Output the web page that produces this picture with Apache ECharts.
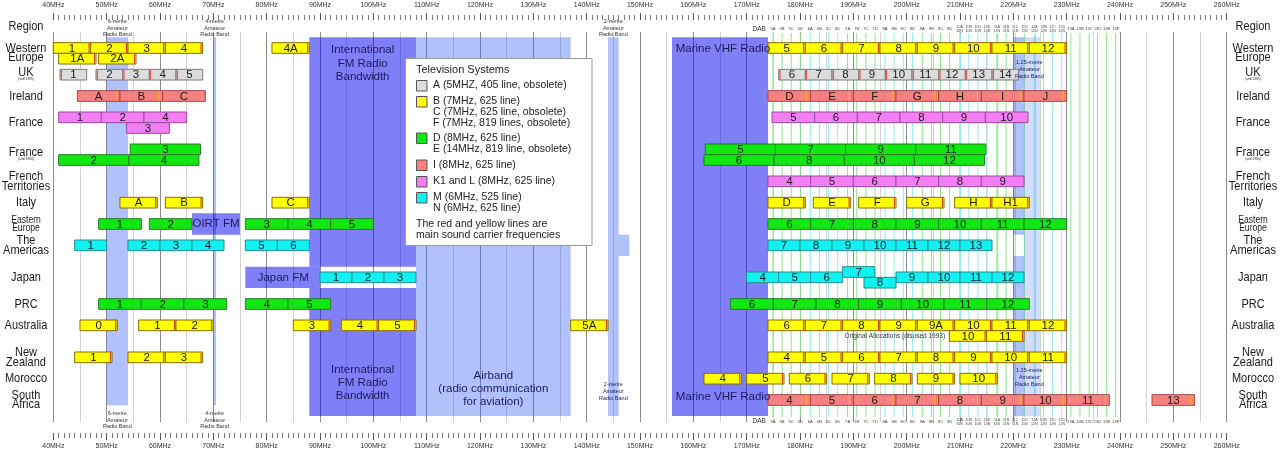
<!DOCTYPE html>
<html><head><meta charset="utf-8">
<script src="https://cdn.jsdelivr.net/npm/echarts@6/dist/echarts.min.js"></script>
<style>html,body{margin:0;padding:0;background:#fff}#c{width:1280px;height:454px}</style>
</head><body><div id="c"></div>
<script>
// ===== DATA (MHz) =====
const westernEurope = [["1",40,47],["2",47,54],["3",54,61],["4",61,68],["4A",81,88],["5",174,181],["6",181,188],["7",188,195],["8",195,202],["9",202,209],["10",209,216],["11",216,223],["12",223,230]];
const westernEuropeA = [["1A",41,48],["2A",48.5,55.5]];
const uk = [["1",41.25,46.25],["2",48,53],["3",53,58],["4",58,63],["5",63,68],["6",176,181],["7",181,186],["8",186,191],["9",191,196],["10",196,201],["11",201,206],["12",206,211],["13",211,216],["14",216,221]];
const ireland = [["A",44.5,52.5],["B",52.5,60.5],["C",60.5,68.5],["D",174,182],["E",182,190],["F",190,198],["G",198,206],["H",206,214],["I",214,222],["J",222,230]];
const france = [["1",41,49],["2",49,57],["4",57,65],["5",174.75,182.75],["6",182.75,190.75],["7",190.75,198.75],["8",198.75,206.75],["9",206.75,214.75],["10",214.75,222.75]];
const france3 = [["3",53.75,61.75]];
const france1984Odd = [["3",54.4,67.6],["5",162.25,175.4],["7",175.4,188.55],["9",188.55,201.7],["11",201.7,214.85]];
const france1984Even = [["2",41,54.15],["4",54.15,67.3],["6",162,175.15],["8",175.15,188.3],["10",188.3,201.45],["12",201.45,214.6]];
const frenchTerritories = [["4",174,182],["5",182,190],["6",190,198],["7",198,206],["8",206,214],["9",214,222]];
const italy = [["A",52.5,59.5],["B",61,68],["C",81,88],["D",174,181],["E",182.5,189.5],["F",191,198],["G",200,207],["H",209,216],["H1",216,223]];
const easternEurope = [["1",48.5,56.5],["2",58,66],["3",76,84],["4",84,92],["5",92,100],["6",174,182],["7",182,190],["8",190,198],["9",198,206],["10",206,214],["11",214,222],["12",222,230]];
const americas = [["1",44,50],["2",54,60],["3",60,66],["4",66,72],["5",76,82],["6",82,88],["7",174,180],["8",180,186],["9",186,192],["10",192,198],["11",198,204],["12",204,210],["13",210,216]];
const japan = [["1",90,96],["2",96,102],["3",102,108],["4",170,176],["5",176,182],["6",182,188],["9",198,204],["10",204,210],["11",210,216],["12",216,222]];
const japan7 = [["7",188,194]];
const japan8 = [["8",192,198]];
const prc = [["1",48.5,56.5],["2",56.5,64.5],["3",64.5,72.5],["4",76,84],["5",84,92],["6",167,175],["7",175,183],["8",183,191],["9",191,199],["10",199,207],["11",207,215],["12",215,223]];
const australia = [["0",45,52],["1",56,63],["2",63,70],["3",85,92],["4",94,101],["5",101,108],["5A",137,144],["6",174,181],["7",181,188],["8",188,195],["9",195,202],["9A",202,209],["10",209,216],["11",216,223],["12",223,230]];
const australiaOriginal = [["10",208,215],["11",215,222]];
const newZealand = [["1",44,51],["2",54,61],["3",61,68],["4",174,181],["5",181,188],["6",188,195],["7",195,202],["8",202,209],["9",209,216],["10",216,223],["11",223,230]];
const morocco = [["4",162,169],["5",170,177],["6",178,185],["7",186,193],["8",194,201],["9",202,209],["10",210,217]];
const southAfrica = [["4",174,182],["5",182,190],["6",190,198],["7",198,206],["8",206,214],["9",214,222],["10",222,230],["11",230,238],["13",246,254]];

const dabChannels = [["5A",174.928],["5B",176.640],["5C",178.352],["5D",180.064],["6A",181.936],["6B",183.648],["6C",185.360],["6D",187.072],["7A",188.928],["7B",190.640],["7C",192.352],["7D",194.064],["8A",195.936],["8B",197.648],["8C",199.360],["8D",201.072],["9A",202.928],["9B",204.640],["9C",206.352],["9D",208.064],["10A",209.936],["10N",210.096],["10B",211.648],["10C",213.360],["10D",215.072],["11A",216.928],["11N",217.088],["11B",218.640],["11C",220.352],["11D",222.064],["12A",223.936],["12N",224.096],["12B",225.648],["12C",227.360],["12D",229.072],["13A",230.784],["13B",232.496],["13C",234.208],["13D",235.776],["13E",237.488],["13F",239.200]];

// frequency bands: [name, start MHz, end MHz]
const bandRanges = [["6m",50,54],["4m",70,70.5],["FM",88,108],["FMlow",88,108],["JapanFM",76,90],["OIRT",66,75],["Air",108,137],["2m",144,146],["2mAm",146,148],["Marine",156,174],["125a",220,222],["125b",220,222],["125c",222,225]];

const regionNames = ["Region","Western\nEurope","UK","(until 1985)","Ireland","France","France","(until 1984)","French\nTerritories","Italy","Eastern\nEurope","The\nAmericas","Japan","PRC","Australia","New\nZealand","Morocco","South\nAfrica"];

const legendItems = [
  ["A",["A (5MHZ, 405 line, obsolete)"]],
  ["B",["B (7MHz, 625 line)","C (7MHz, 625 line, obsolete)","F (7MHz, 819 lines, obsolete)"]],
  ["D",["D (8MHz, 625 line)","E (14MHz, 819 line, obsolete)"]],
  ["I",["I (8MHz, 625 line)"]],
  ["L",["K1 and L (8MHz, 625 line)"]],
  ["M",["M (6MHz, 525 line)","N (6MHz, 625 line)"]]
];
const legendTitle = 'Television Systems';
const legendNote = ['The red and yellow lines are','main sound carrier frequencies'];

// ===== LAYOUT (row lanes; 1 lane = one bar height) =====
const rowLayout = [
  [westernEurope,1,'B'],[westernEuropeA,2,'B'],[uk,3.5,'A'],[ireland,5.5,'I'],
  [france,7.5,'L'],[france3,8.5,'L'],[france1984Odd,10.5,'E'],[france1984Even,11.5,'E'],
  [frenchTerritories,13.5,'L'],[italy,15.5,'B'],[easternEurope,17.5,'D'],[americas,19.5,'M'],
  [japan,22.5,'M'],[japan7,22,'M'],[japan8,23,'M'],[prc,25,'D'],[australia,27,'B'],
  [australiaOriginal,28,'B'],[newZealand,30,'B'],[morocco,32,'B'],[southAfrica,34,'I']
];
const regionLanes = [-1,1.47,3.3,3.95,5.5,8,10.8,11.4,13.5,15.5,17.5,19.5,22.5,25,27,30,32,34];
const regionStyle = ['n','n','n','s','n','n','n','s','n','n','e','n','n','n','n','n','n','n'];
const bandLayout = { "6m":[0,34.5,'L'], "4m":[0,34.5,'L'], "FM":[0,21.5,'D'], "FMlow":[23.5,35.5,'D'], "JapanFM":[21.5,23.5,'D'],
  "OIRT":[16.5,18.5,'D'], "Air":[0,35.5,'L'], "2m":[0,35.5,'L'], "2mAm":[18.5,20.5,'L'], "Marine":[0,35.5,'D'],
  "125a":[0,18.5,'L'], "125b":[20.5,35.5,'L'], "125c":[0,35.5,'M'] };
// annotations: [text, MHz, lane, style]
const annotations = [
  ["6-metre\nAmateur\nRadio Band",52,-0.875,'tiny'],["6-metre\nAmateur\nRadio Band",52,35.875,'tiny'],
  ["4-metre\nAmateur\nRadio Band",70.25,-0.875,'tiny'],["4-metre\nAmateur\nRadio Band",70.25,35.875,'tiny'],
  ["2-metre\nAmateur\nRadio Band",145,-0.875,'tiny'],["2-metre\nAmateur\nRadio Band",145,33.2,'tinyB'],
  ["1.25-metre\nAmateur\nRadio Band",223,3.0,'tinyB'],["1.25-metre\nAmateur\nRadio Band",223,31.9,'tinyB'],
  ["International\nFM Radio\nBandwidth",98,2.44,'band'],["International\nFM Radio\nBandwidth",98,32.4,'band'],
  ["Airband\n(radio communication\nfor aviation)",122.5,32.94,'band'],
  ["Marine VHF Radio",156.7,1.1,'bandL'],["Marine VHF Radio",156.7,33.7,'bandL'],
  ["OIRT FM",70.5,17.5,'band'],["Japan FM",83.1,22.5,'band'],
  ["Original Allocations (disused 1993)",207.2,28,'note'],
  ["DAB",173.6,-0.8,'dab'],["DAB",173.6,36.03,'dab']
];

// ===== STYLES =====
const FONT = 'Liberation Sans, Arial, sans-serif';
const sysStyle = {
  A:{fill:'#dcdcdc',stroke:'#7a7a7a',sound:'#e03a3a',pos:(s,e)=>s+0.25},
  B:{fill:'#ffff00',stroke:'#8a6a00',sound:'#d03000',pos:(s,e)=>e-0.3},
  D:{fill:'#11e811',stroke:'#2a7a2a'},
  E:{fill:'#11e811',stroke:'#2a7a2a'},
  I:{fill:'#f88080',stroke:'#a04848',sound:'#ffb020',pos:(s,e)=>s+7.25},
  L:{fill:'#f47ff4',stroke:'#9a4a9a'},
  M:{fill:'#10f2f2',stroke:'#2a8a8a'}
};
const bandColor = { D:'rgba(0,0,240,0.5)', L:'rgba(60,100,240,0.4)', M:'rgba(60,100,240,0.22)' };

const chart = echarts.init(document.getElementById('c'), null, {renderer:'canvas'});

const barSeries = rowLayout.map(([rows, lane, sys]) => ({
  type:'custom', xAxisIndex:0, yAxisIndex:0, z:5, silent:true,
  data: rows.map(r => [r[1], r[2], lane]),
  encode:{x:[0,1], y:2},
  renderItem:(params, api) => {
    const s = api.value(0), e = api.value(1), ln = api.value(2);
    const a = api.coord([s, ln-0.5]), b = api.coord([e, ln+0.5]);
    const st = sysStyle[sys];
    const children = [{type:'rect', shape:{x:a[0], y:a[1], width:b[0]-a[0], height:b[1]-a[1]},
      style:{fill:st.fill, stroke:st.stroke, lineWidth:1}}];
    if (st.sound) {
      const x = api.coord([st.pos(s,e), ln])[0];
      children.push({type:'line', shape:{x1:x, y1:a[1]+0.5, x2:x, y2:b[1]-0.5}, style:{stroke:st.sound, lineWidth:1}});
    }
    children.push({type:'text', style:{text:rows[params.dataIndex][0], x:(a[0]+b[0])/2, y:(a[1]+b[1])/2+0.5,
      align:'center', verticalAlign:'middle', fill:'#1a1a1a', fontSize:11.5, fontFamily:FONT}});
    return {type:'group', children};
  }
}));

const bandSeries = {
  type:'custom', xAxisIndex:0, yAxisIndex:0, z:3, silent:true,
  data: bandRanges.map(b => [b[1], b[2]]),
  renderItem:(params, api) => {
    const lay = bandLayout[bandRanges[params.dataIndex][0]];
    const a = api.coord([api.value(0), lay[0]]), b = api.coord([api.value(1), lay[1]]);
    return {type:'rect', shape:{x:a[0], y:a[1], width:b[0]-a[0], height:b[1]-a[1]}, style:{fill:bandColor[lay[2]]}};
  }
};

const dabSeries = {
  type:'custom', xAxisIndex:0, yAxisIndex:0, z:2, silent:true,
  data: dabChannels.map(d => [d[1]]),
  renderItem:(params, api) => {
    const lbl = dabChannels[params.dataIndex][0];
    const block = parseInt(lbl, 10);
    const col = block % 2 ? '#8fe38f' : '#93e9ee';
    const f = api.value(0);
    const t = api.coord([f, -0.4]), btm = api.coord([f, 35.6]);
    const ch = [{type:'line', shape:{x1:t[0], y1:t[1], x2:t[0], y2:btm[1]}, style:{stroke:col, lineWidth:1}}];
    if (!lbl.endsWith('N')) {
      const hasN = dabChannels.some(d => d[0] === block + 'N');
      const txt = hasN ? lbl + '\n' + block + 'N' : lbl;
      [-0.8, 36.03].forEach(l => {
        const p = api.coord([f, l]);
        ch.push({type:'text', style:{text:txt, x:p[0], y:p[1], align:'center', verticalAlign:'middle',
          fontSize:hasN?3.6:4.2, lineHeight:4, fill:'#444', fontFamily:FONT}});
      });
    }
    return {type:'group', children:ch};
  }
};

const annStyle = {
  tiny:{fontSize:5.5, lineHeight:6.7, fill:'#333', align:'center'},
  tinyB:{fontSize:5.5, lineHeight:6.7, fill:'#1c1c5c', align:'center'},
  band:{fontSize:11.5, lineHeight:13.3, fill:'#1c1c5c', align:'center'},
  bandL:{fontSize:11.5, lineHeight:13, fill:'#1c1c5c', align:'left'},
  note:{fontSize:6.5, lineHeight:7, fill:'#333', align:'right'},
  dab:{fontSize:6.5, lineHeight:7, fill:'#333', align:'right'}
};
const annSeries = {
  type:'custom', xAxisIndex:0, yAxisIndex:0, z:7, silent:true,
  data: annotations.map(a => [a[1], a[2]]),
  renderItem:(params, api) => {
    const an = annotations[params.dataIndex];
    const p = api.coord([api.value(0), api.value(1)]);
    const st = annStyle[an[3]];
    return {type:'text', style:{text:an[0], x:p[0], y:p[1], align:st.align, verticalAlign:'middle',
      fontSize:st.fontSize, lineHeight:st.lineHeight, fill:st.fill, fontFamily:FONT}};
  }
};

const regionSeries = {
  type:'custom', xAxisIndex:0, yAxisIndex:0, z:7, silent:true,
  data: regionNames.map((n,i) => [40, regionLanes[i]]),
  renderItem:(params, api) => {
    const y = api.coord([40, api.value(1)])[1];
    const kind = regionStyle[params.dataIndex];
    const fs = kind==='s' ? 3.6 : (kind==='e' ? 10 : 12.8);
    const lh = kind==='s' ? 4 : (kind==='e' ? 7.8 : 9.6);
    const txt = regionNames[params.dataIndex];
    return {type:'group', children:[26, 1253].map(x => ({type:'text', x, y, scaleX:0.86,
      style:{text:txt, x:0, y:0, align:'center', verticalAlign:'middle', fontSize:fs, lineHeight:lh, fill:'#1a1a1a', fontFamily:FONT}}))};
  }
};

// legend graphic
const ZL = 100;
const legendEls = [{type:'rect', z:ZL, shape:{x:405.5, y:58.5, width:186.5, height:187}, style:{fill:'#fff', stroke:'#9a9a9a', lineWidth:1}},
  {type:'text', z:ZL+1, style:{text:legendTitle, x:416, y:70, verticalAlign:'middle', fontSize:11, fill:'#222', fontFamily:FONT}}];
const swatchY = [80, 96, 132.5, 159.5, 176, 192];
legendItems.forEach((it, i) => {
  legendEls.push({type:'rect', z:ZL+1, shape:{x:416.5, y:swatchY[i]+0.5, width:10.5, height:10.5},
    style:{fill:sysStyle[it[0]].fill, stroke:'#555', lineWidth:1}});
  it[1].forEach((t, j) => legendEls.push({type:'text', z:ZL+1, style:{text:t, x:433, y:swatchY[i]+5.5+j*11,
    verticalAlign:'middle', fontSize:10.5, fill:'#222', fontFamily:FONT}}));
});
legendNote.forEach((t,j) =>
  legendEls.push({type:'text', z:ZL+1, style:{text:t, x:416, y:224.3+j*11, verticalAlign:'middle', fontSize:10.5, fill:'#222', fontFamily:FONT}}));

const L = 53.333, R = 53.333;
const rulerAxis = (grid, pos) => ({
  type:'value', gridIndex:grid, min:40, max:260, interval:10, position:pos,
  axisLine:{show:false},
  axisTick:{show:true, length:7, lineStyle:{color:'#555', width:1}},
  minorTick:{show:true, splitNumber:10, length:5, lineStyle:{color:'#777', width:1}},
  axisLabel:{show:true, formatter:v => v + 'MHz', fontSize:7, color:'#333', margin:10, fontFamily:FONT},
  splitLine:{show:false}
});

chart.setOption({
  animation:false,
  backgroundColor:'#fff',
  grid:[
    {left:L, right:R, top:0, bottom:0},
    {left:L, right:R, top:19, height:1},
    {left:L, right:R, top:32, height:390},
    {left:L, right:R, top:432, height:1}
  ],
  xAxis:[
    {type:'value', gridIndex:0, min:40, max:260, show:false},
    rulerAxis(1, 'top'),
    {type:'value', gridIndex:2, min:40, max:260, interval:5, axisLine:{show:false}, axisTick:{show:false}, axisLabel:{show:false},
      splitLine:{show:true, lineStyle:{color:['#8c8c8c','#d2d2d2'], width:1}}},
    rulerAxis(3, 'bottom')
  ],
  yAxis:[
    {type:'value', gridIndex:0, min:-3.5, max:39.0625, inverse:true, show:false},
    {type:'value', gridIndex:1, show:false},
    {type:'value', gridIndex:2, show:false},
    {type:'value', gridIndex:3, show:false}
  ],
  graphic:{elements: legendEls},
  series:[dabSeries, bandSeries, ...barSeries, annSeries, regionSeries]
});
</script></body></html>
